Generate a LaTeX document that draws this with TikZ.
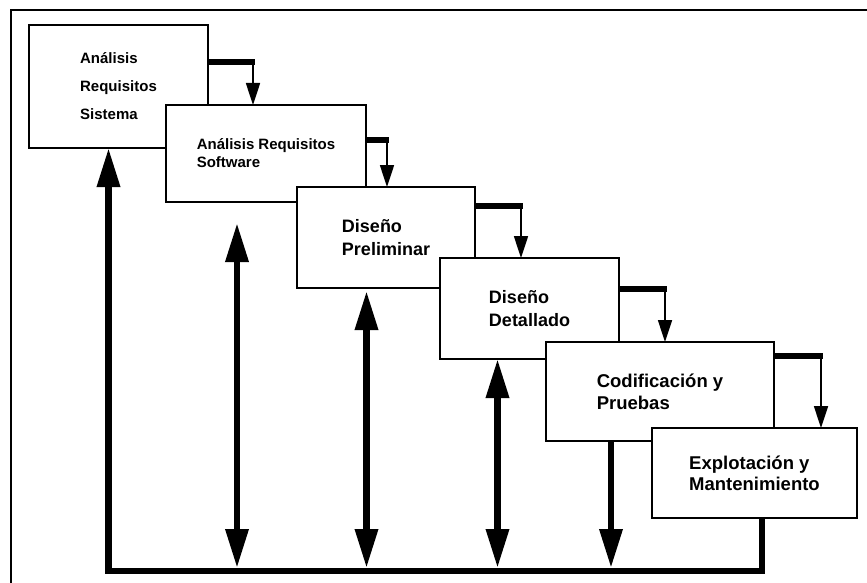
\documentclass[tikz,border=0pt]{standalone}
\usepackage{fontspec}
\setmainfont{Liberation Sans}
\usetikzlibrary{arrows.meta,calc}
\begin{document}
\begin{tikzpicture}[x=1pt,y=-1pt,
  box/.style={draw,line width=1.4pt,fill=white,anchor=north west,inner sep=0pt,outer sep=0pt,align=left},
  bar/.style={line width=6pt,shorten >=-2pt},
  stepdown/.style={line width=1.7pt,-{Triangle[width=14pt,length=22pt]}},
  bigline/.style={line width=6.5pt,line join=miter},
  uparrow/.style={bigline,-{Triangle[width=22pt,length=39pt]}},
  twoway/.style={bigline,{Triangle[width=22pt,length=39pt]}-{Triangle[width=22pt,length=39pt]}},
  frame/.style={line width=2.2pt}
]
\useasboundingbox (0,0) rectangle (867,583);
% frame (cropped at right and bottom)
\draw[frame] (11,583) -- (11,10) -- (867,10);

% boxes
\node[box,minimum width=179pt,minimum height=123pt,font={\fontsize{15}{28}\selectfont\bfseries}] (b1) at (29,25) {Análisis\\Requisitos\\Sistema};
\node[box,minimum width=200pt,minimum height=97pt,font={\fontsize{15}{18}\selectfont\bfseries}] (b2) at (166,105) {Análisis Requisitos\\Software};
\node[box,minimum width=178pt,minimum height=101pt,font={\fontsize{18}{23}\selectfont\bfseries}] (b3) at (297,187) {Diseño\\Preliminar};
\node[box,minimum width=179pt,minimum height=101pt,font={\fontsize{18}{23}\selectfont\bfseries}] (b4) at (440,258) {Diseño\\Detallado};
\node[box,minimum width=228pt,minimum height=99pt,font={\fontsize{18.5}{22}\selectfont\bfseries}] (b5) at (546,342) {Codificación y\\Pruebas};
\node[box,minimum width=205pt,minimum height=90pt,font={\fontsize{18.5}{21}\selectfont\bfseries}] (b6) at (652,428) {Explotación y\\Mantenimiento};

% step connectors
\coordinate (s1) at (253,62.5);
\coordinate (s2) at (387,140);
\coordinate (s3) at (521,205.5);
\coordinate (s4) at (665,288.5);
\coordinate (s5) at (821,355.5);
\draw[bar] (b1.east |- s1) -- (s1);
\draw[stepdown] (s1) -- (s1 |- b2.north);
\draw[bar] (b2.east |- s2) -- (s2);
\draw[stepdown] (s2) -- (s2 |- b3.north);
\draw[bar] (b3.east |- s3) -- (s3);
\draw[stepdown] (s3) -- (s3 |- b4.north);
\draw[bar] (b4.east |- s4) -- (s4);
\draw[stepdown] (s4) -- (s4 |- b5.north);
\draw[bar] (b5.east |- s5) -- (s5);
\draw[stepdown] (s5) -- (s5 |- b6.north);

% feedback lines
\coordinate (br) at (762,571);
\coordinate (bl) at (108.5,571);
\draw[uparrow] (b6.south -| br) -- (br) -- (bl) -- (bl |- b1.south);

\coordinate (d2t) at (237,223);
\coordinate (d2b) at (237,568);
\coordinate (d3t) at (366.5,291);
\coordinate (d3b) at (366.5,568);
\coordinate (d4b) at (497.5,568);
\coordinate (d5b) at (611,568);
\draw[twoway] (d2t) -- (d2b);
\draw[twoway] (d3t) -- (d3b);
\draw[twoway] (d4b |- b4.south) -- (d4b);
\draw[uparrow] (d5b |- b5.south) -- (d5b);
\end{tikzpicture}
\end{document}
